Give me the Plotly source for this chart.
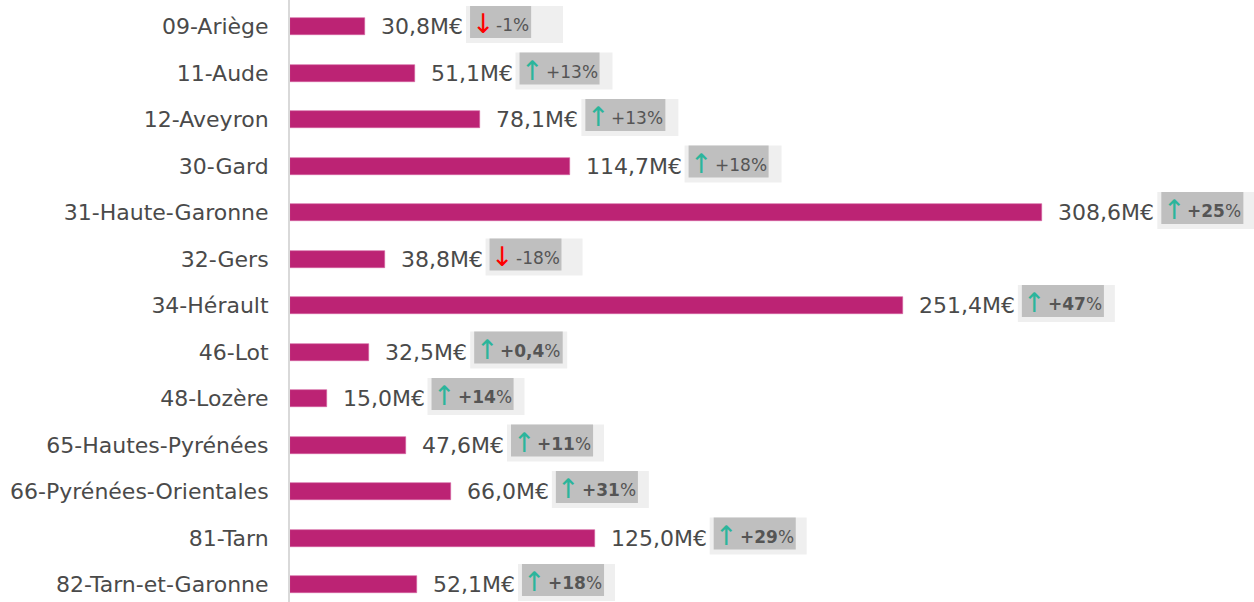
import plotly.graph_objects as go

departements = ["09-Ariège", "11-Aude", "12-Aveyron", "30-Gard", "31-Haute-Garonne", "32-Gers",
                "34-Hérault", "46-Lot", "48-Lozère", "65-Hautes-Pyrénées", "66-Pyrénées-Orientales",
                "81-Tarn", "82-Tarn-et-Garonne"]
montants = [30.8, 51.1, 78.1, 114.7, 308.6, 38.8, 251.4, 32.5, 15.0, 47.6, 66.0, 125.0, 52.1]
evolutions = ["-1", "+13", "+13", "+18", "+25", "-18", "+47", "+0,4", "+14", "+11", "+31", "+29", "+18"]
evol_gras = [False, False, False, False, True, False, True, True, True, True, True, True, True]

FONT = "DejaVu Sans"
LABEL_SIZE = 22
PCT_SIZE = 17
BAR_COLOR = "#BC2374"
TEXT_COLOR = "#4a4a4a"

# approximate glyph widths (em) for DejaVu Sans (regular / bold), used to size the badges
W_REG = {",": 0.318, "M": 0.863, "€": 0.636, "+": 0.838, "-": 0.361, "%": 0.950}
W_BOLD = {",": 0.380, "+": 0.838, "-": 0.415}
def text_w(s, size, bold=False):
    if bold:
        return sum(W_BOLD.get(c, 0.696) for c in s) * size
    return sum(W_REG.get(c, 0.636) for c in s) * size

rows = list(range(len(departements)))
fig = go.Figure()
fig.add_trace(go.Bar(
    x=montants, y=rows, orientation="h", width=0.366,
    marker=dict(color=BAR_COLOR, line=dict(color="#d4619f", width=0.6)),
    hoverinfo="skip",
))

annotations = []
shapes = []
for i, (v, e, b) in enumerate(zip(montants, evolutions, evol_gras)):
    lab = f"{v:.1f}".replace(".", ",") + "M€"
    lw = text_w(lab, LABEL_SIZE)
    annotations.append(dict(
        x=v, y=i, xref="x", yref="y", text=lab, showarrow=False,
        xanchor="left", yanchor="middle", xshift=15, borderpad=0,
        font=dict(family=FONT, size=LABEL_SIZE, color=TEXT_COLOR),
    ))
    o = 15 + lw + 4  # outer badge left, pixels from bar end
    pw = text_w(e, PCT_SIZE, b) + text_w("%", PCT_SIZE)
    shapes.append(dict(
        type="rect", xref="x", yref="y", xsizemode="pixel", ysizemode="pixel",
        xanchor=v, yanchor=i, x0=o, x1=o + 97, y0=-16.5, y1=20.5,
        fillcolor="#efefef", line=dict(width=0), layer="below",
    ))
    shapes.append(dict(
        type="rect", xref="x", yref="y", xsizemode="pixel", ysizemode="pixel",
        xanchor=v, yanchor=i, x0=o + 4, x1=o + 29 + pw + 3, y0=-11.5, y1=20.5,
        fillcolor="#bfbfbf", line=dict(width=0), layer="below",
    ))
    up = not e.startswith("-")
    annotations.append(dict(
        x=v, y=i, xref="x", yref="y", text="↑" if up else "↓", showarrow=False,
        xanchor="center", yanchor="middle", xshift=o + 17, yshift=3,
        borderpad=0,
        font=dict(family=FONT, size=27, color="#2bb59b" if up else "#ff0000"),
    ))
    num = f"<b>{e}</b>" if b else e
    annotations.append(dict(
        x=v, y=i, xref="x", yref="y", text=f"{num}%", showarrow=False,
        xanchor="left", yanchor="middle", xshift=o + 29, yshift=1.5,
        borderpad=0,
        font=dict(family=FONT, size=PCT_SIZE, color="#555555"),
    ))

fig.update_layout(
    width=1254, height=602,
    margin=dict(l=290, r=0, t=0, b=0),
    paper_bgcolor="white", plot_bgcolor="white",
    showlegend=False,
    bargap=0,
    annotations=annotations,
    shapes=shapes,
    xaxis=dict(range=[0, 395.4], visible=False, showgrid=False, zeroline=False, fixedrange=True),
    yaxis=dict(
        range=[12.376, -0.57], tickvals=rows, ticktext=departements,
        showgrid=False, zeroline=False, ticks="", ticklabelstandoff=15,
        showline=True, linecolor="#d9d9d9", linewidth=2,
        tickfont=dict(family=FONT, size=LABEL_SIZE, color=TEXT_COLOR),
        fixedrange=True,
    ),
)

fig.write_html("out.html", config={"displayModeBar": False},
               post_script="document.body.style.margin='0';document.body.style.padding='0';")
